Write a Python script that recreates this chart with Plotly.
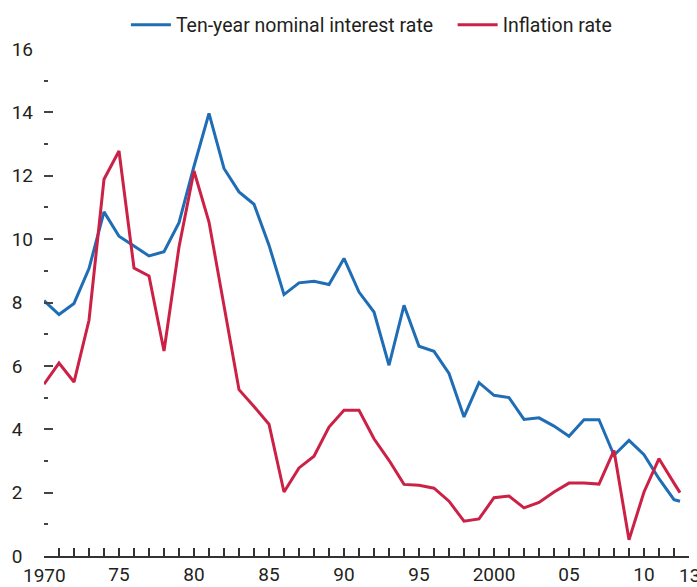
import plotly.graph_objects as go

# ---- data ----
years = list(range(1970, 2013)) + [2012.4]
interest_rate = [8.06, 7.62, 7.97, 9.07, 10.86, 10.09, 9.78, 9.47, 9.60, 10.52,
                 12.30, 13.97, 12.23, 11.49, 11.10, 9.81, 8.25, 8.62, 8.67, 8.57,
                 9.39, 8.33, 7.70, 6.02, 7.91, 6.62, 6.46, 5.76, 4.39, 5.47,
                 5.07, 5.00, 4.31, 4.36, 4.10, 3.78, 4.30, 4.30, 3.18, 3.65,
                 3.20, 2.44, 1.78, 1.73]
inflation_rate = [5.42, 6.09, 5.49, 7.44, 11.89, 12.78, 9.09, 8.84, 6.47, 9.75,
                  12.15, 10.54, 7.90, 5.25, 4.72, 4.16, 2.02, 2.78, 3.15, 4.07,
                  4.60, 4.60, 3.70, 3.02, 2.26, 2.23, 2.14, 1.73, 1.10, 1.17,
                  1.84, 1.89, 1.52, 1.69, 2.02, 2.30, 2.30, 2.27, 3.33, 0.51,
                  2.02, 3.07, 2.30, 2.00]
series_names = ["Ten-year nominal interest rate", "Inflation rate"]

x_tick_years = list(range(1971, 2013))
x_label_map = {1975: "75", 1980: "80", 1985: "85", 1990: "90", 1995: "95",
               2000: "2000", 2005: "05", 2010: "10"}
x_edge_labels = [(1970, "1970"), (2013, "13")]
y_tick_vals = [0, 2, 4, 6, 8, 10, 12, 14, 16]
y_tick_text = ["0", "2", "4", "6", "8", "10", "12", "14", "16"]

BLUE = "#1f6db5"
RED = "#cc2146"
FONT = "Roboto, sans-serif"
TXT = "#231f20"
TICKSIZE = 19

fig = go.Figure()
# the first legend entry gets non-breaking padding so the second entry sits further right
fig.add_trace(go.Scatter(x=years, y=interest_rate, mode="lines",
                         name=series_names[0] + "\u00a0" * 3,
                         line=dict(color=BLUE, width=3), cliponaxis=False))
fig.add_trace(go.Scatter(x=years, y=inflation_rate, mode="lines", name=series_names[1],
                         line=dict(color=RED, width=3), cliponaxis=False))

ytext = [t if len(t) == 2 else t + "\u2007" for t in y_tick_text]

fig.update_layout(
    width=697, height=587,
    margin=dict(l=44, r=8, t=49, b=31, pad=0, autoexpand=False),
    paper_bgcolor="white", plot_bgcolor="white",
    font=dict(family=FONT, color=TXT, size=TICKSIZE),
    showlegend=True,
    legend=dict(orientation="h", x=0.127, xanchor="left", y=1.047, yanchor="middle",
                font=dict(size=19.5, color=TXT), itemwidth=40,
                bgcolor="rgba(0,0,0,0)"),
    xaxis=dict(range=[1970, 2013], showgrid=False, zeroline=False,
               showline=True, linecolor="#333333", linewidth=2,
               ticks="inside", ticklen=8, tickwidth=1.5, tickcolor="#333333",
               tickmode="array", tickvals=x_tick_years,
               ticktext=[x_label_map.get(y, "") for y in x_tick_years],
               tickfont=dict(size=TICKSIZE, color=TXT)),
    yaxis=dict(range=[0, 16], showgrid=False, zeroline=False, showline=False,
               ticks="inside", ticklen=9, tickwidth=2, tickcolor="#444444",
               tickmode="array", tickvals=y_tick_vals, ticktext=ytext,
               tickfont=dict(size=TICKSIZE, color=TXT), ticklabelstandoff=10,
               minor=dict(ticks="inside", ticklen=4, tickwidth=2, tickcolor="#444444",
                          dtick=1, tick0=0)),
)

for xv, label in x_edge_labels:
    fig.add_annotation(x=xv, xref="x", y=0, yref="paper", yanchor="top", yshift=-6,
                       text=label, showarrow=False, font=dict(size=TICKSIZE, color=TXT))

fig.write_html("out.html", config={"displayModeBar": False},
               post_script="document.body.style.margin='0';")
